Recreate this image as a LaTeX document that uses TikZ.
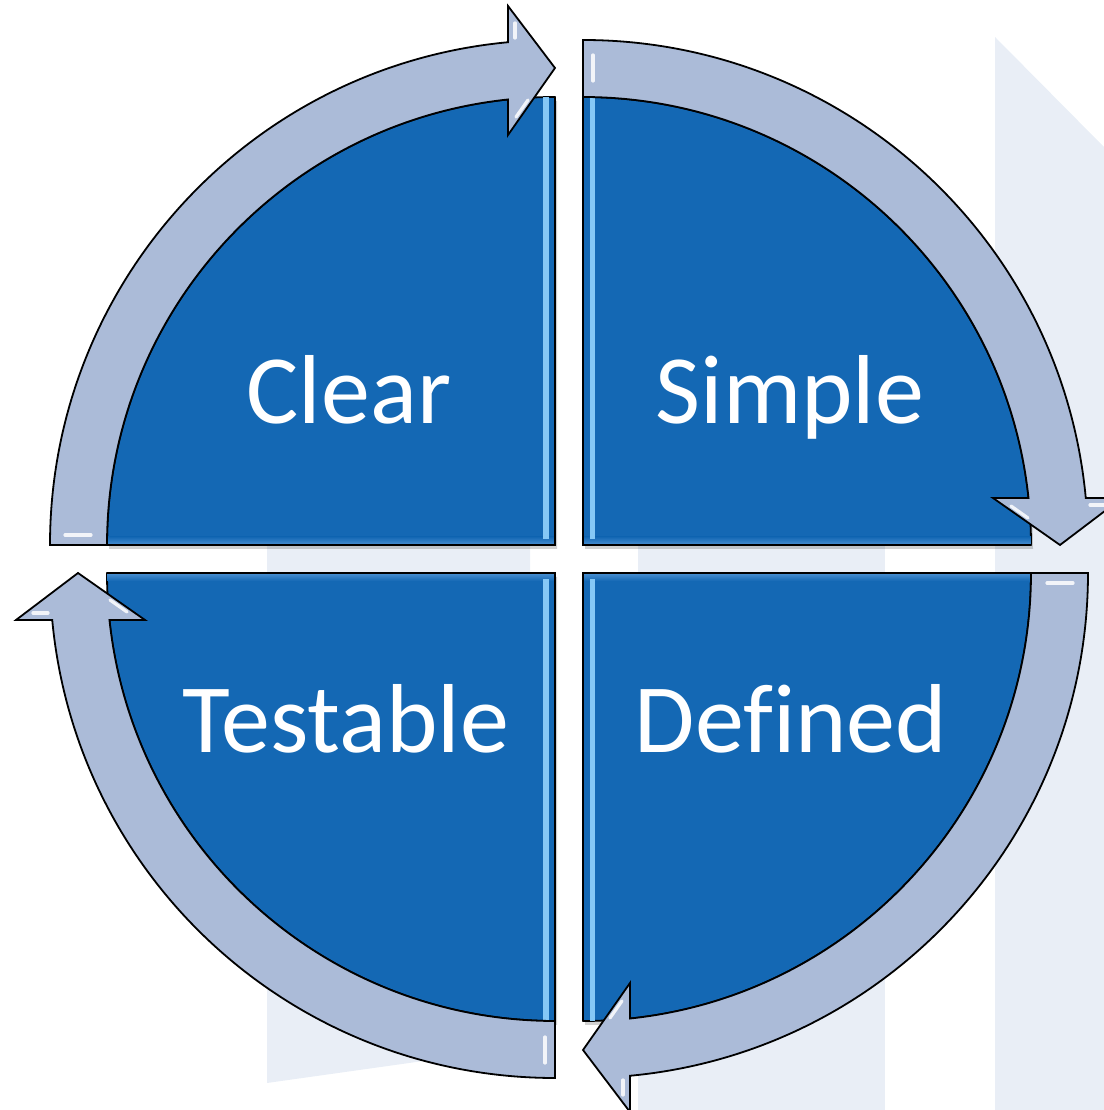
\documentclass[tikz,border=0pt]{standalone}
\usepackage{fontspec}
\setmainfont{Carlito}[Ligatures=NoCommon]
\definecolor{qblue}{HTML}{1468B4}
\definecolor{qarc}{HTML}{ABBBD8}
\definecolor{qbg}{HTML}{E9EEF6}
\definecolor{qhi}{HTML}{86C8F6}
\definecolor{qedge}{HTML}{4A90D2}
\tikzset{
  sector/.style={fill=qblue, draw=black, line width=0.9pt, line join=round},
  arcband/.style={fill=qarc, draw=black, line width=0.9pt, line join=miter},
  bgband/.style={fill=qbg, draw=none},
  shadowed/.style={fill=black, opacity=0.18, draw=none},
  gloss/.style={draw=white, line width=1.6pt, opacity=0.85, line cap=round},
  label/.style={text=white, font=\fontsize{49}{58}\selectfont, inner sep=0pt, anchor=base}
}
% #1 = start angle of the quarter (sector runs clockwise to #1-90)
\newcommand{\qsector}[1]{%
  \pgfmathsetmacro\qse{#1-90}%
  \path[sector] (0,0) -- (#1:448) arc[start angle=#1, end angle=\qse, radius=448] -- cycle;
}
\newcommand{\qshadow}[1]{%
  \pgfmathsetmacro\qse{#1-90}%
  \fill[shadowed] (2,-4) ++(#1:448) arc[start angle=#1, end angle=\qse, radius=448] -- (2,-4) -- cycle;
}
% curved arrow, drawn in the frame of the top-left quarter, then rotated by #1
\newcommand{\qarrow}[1]{%
  \begin{scope}[rotate=#1]
    \path[arcband] (180:505) arc[start angle=180, end angle=95.34, radius=505]
       -- (-47,539) -- (0,477) -- (-47,410) -- (96.02:448)
       arc[start angle=96.02, end angle=180, radius=448] -- cycle;
    \draw[gloss] (-490,10) -- (-464,10);
    \draw[gloss] (-40,522) -- (-40,507);
    \draw[gloss] (-39,428) -- (-27,445);
  \end{scope}
}
\begin{document}
\begin{tikzpicture}[x=0.5pt, y=0.5pt]
  \useasboundingbox (0,0) rectangle (1104,1110);
  % faint background bands
  \path[bgband] (267,565) -- (530,565) -- (530,64) -- (267,27) -- cycle;
  \path[bgband] (638,565) -- (885,565) -- (885,0) -- (638,0) -- cycle;
  \path[bgband] (995,1073) -- (1104,963) -- (1104,0) -- (995,0) -- cycle;

  % Top-left quarter: Clear
  \begin{scope}[shift={(555,565)}]
    \qshadow{180}
    \qsector{180}
    \begin{scope}
      \clip (0,0) -- (180:448) arc[start angle=180, end angle=90, radius=448] -- cycle;
      \shade[bottom color=qedge, top color=qblue] (-448,0) rectangle (0,8);
      \fill[qhi] (-12,6) rectangle (-6,448);
    \end{scope}
    \draw[black, line width=0.9pt] (180:448) -- (0,0) -- (90:448);
    \qarrow{0}
  \end{scope}

  % Top-right quarter: Simple
  \begin{scope}[shift={(583,565)}]
    \qshadow{90}
    \qsector{90}
    \begin{scope}
      \clip (0,0) -- (90:448) arc[start angle=90, end angle=0, radius=448] -- cycle;
      \shade[bottom color=qedge, top color=qblue] (0,0) rectangle (448,8);
      \fill[qhi] (7,6) rectangle (12,448);
    \end{scope}
    \draw[black, line width=0.9pt] (90:448) -- (0,0) -- (0:448);
    \qarrow{-90}
  \end{scope}

  % Bottom-right quarter: Defined
  \begin{scope}[shift={(583,537)}]
    \qshadow{0}
    \qsector{0}
    \begin{scope}
      \clip (0,0) -- (0:448) arc[start angle=0, end angle=-90, radius=448] -- cycle;
      \shade[top color=qedge, bottom color=qblue] (0,-8) rectangle (448,0);
      \fill[qhi] (7,-6) rectangle (12,-448);
    \end{scope}
    \draw[black, line width=0.9pt] (0:448) -- (0,0) -- (-90:448);
    \qarrow{-180}
  \end{scope}

  % Bottom-left quarter: Testable
  \begin{scope}[shift={(555,537)}]
    \qshadow{270}
    \qsector{270}
    \begin{scope}
      \clip (0,0) -- (270:448) arc[start angle=270, end angle=180, radius=448] -- cycle;
      \shade[top color=qedge, bottom color=qblue] (-448,-8) rectangle (0,0);
      \fill[qhi] (-12,-6) rectangle (-6,-448);
    \end{scope}
    \draw[black, line width=0.9pt] (270:448) -- (0,0) -- (180:448);
    \qarrow{90}
  \end{scope}

  % labels
  \node[label] (clear)    at (349,686) {Clear};
  \node[label] (simple)   at (790,686) {Simple};
  \node[label] (testable) at (346,357) {Testable};
  \node[label] (defined)  at (791,357) {Defined};
\end{tikzpicture}
\end{document}
